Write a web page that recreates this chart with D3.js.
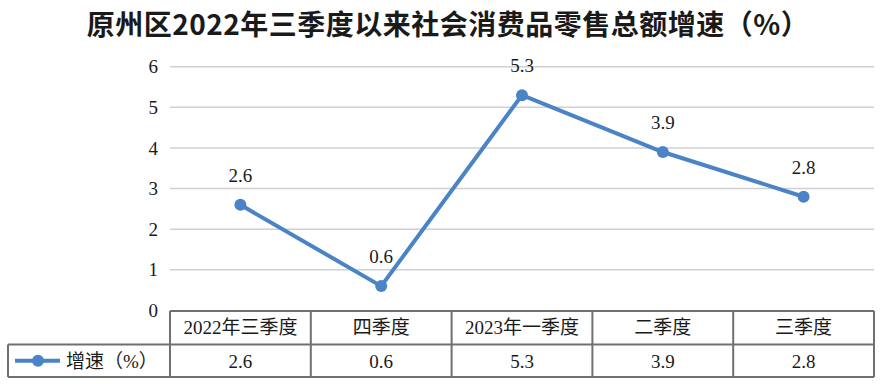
<!DOCTYPE html>
<html>
<head>
<meta charset="utf-8">
<script src="https://cdn.jsdelivr.net/npm/d3@7"></script>
<style>
  body { margin: 0; background: #fff; }
  svg text { fill: #1a1a1a; }
</style>
</head>
<body>
<div id="chart"></div>
<script>
var categories = ["2022年三季度", "四季度", "2023年一季度", "二季度", "三季度"];
var growth = [2.6, 0.6, 5.3, 3.9, 2.8];
var yTicks = [0, 1, 2, 3, 4, 5, 6];
var seriesName = "增速（%）";
var title = "原州区2022年三季度以来社会消费品零售总额增速（%）";

var width = 882, height = 387;
var plotLeft = 170, plotRight = 874, plotTop = 66.7, plotBottom = 310.5;
var rowH = 32.5;
var serif = "'Liberation Serif', 'Times New Roman', 'Noto Sans CJK SC', serif";
var blue = "#4a84c6", gridColor = "#d0d0d0", border = "#707070";

var svg = d3.select("#chart")
            .append("svg")
            .attr("width", width)
            .attr("height", height);

// title
svg.append("text")
   .attr("x", 448)
   .attr("y", 35)
   .attr("text-anchor", "middle")
   .style("font-family", "'Noto Sans CJK SC', sans-serif")
   .style("font-weight", "bold")
   .style("font-size", "28px")
   .style("letter-spacing", "0.5px")
   .text(title);

var x = d3.scaleBand()
          .domain(categories)
          .range([plotLeft, plotRight]);

var y = d3.scaleLinear()
          .domain([0, 6])
          .range([plotBottom, plotTop]);

// grid lines
svg.append("g")
   .selectAll("line")
   .data(yTicks.filter(function(d) { return d > 0; }))
   .enter()
   .append("line")
   .attr("x1", plotLeft)
   .attr("x2", plotRight)
   .attr("y1", function(d) { return y(d); })
   .attr("y2", function(d) { return y(d); })
   .style("stroke", gridColor)
   .style("stroke-width", 1.5);

// y axis labels
var yAxis = svg.append("g")
   .attr("transform", "translate(" + (plotLeft - 12) + ",0)")
   .call(d3.axisLeft(y).tickValues(yTicks).tickSize(0).tickPadding(0).tickFormat(d3.format("d")));
yAxis.select(".domain").remove();
yAxis.selectAll("text")
     .style("font-family", serif)
     .style("font-size", "19px")
     .style("fill", "#1a1a1a");

// line + points
var cx = function(d, i) { return x(categories[i]) + x.bandwidth() / 2; };

svg.append("path")
   .datum(growth)
   .attr("d", d3.line().x(cx).y(function(d) { return y(d); }))
   .style("fill", "none")
   .style("stroke", blue)
   .style("stroke-width", 4)
   .style("stroke-linejoin", "round");

svg.append("g")
   .selectAll("circle")
   .data(growth)
   .enter()
   .append("circle")
   .attr("cx", cx)
   .attr("cy", function(d) { return y(d); })
   .attr("r", 6)
   .style("fill", blue);

svg.append("g")
   .selectAll("text")
   .data(growth)
   .enter()
   .append("text")
   .attr("x", cx)
   .attr("y", function(d) { return y(d) - 23; })
   .attr("text-anchor", "middle")
   .style("font-family", serif)
   .style("font-size", "19px")
   .text(function(d) { return d.toFixed(1); });

// data table
var tbl = svg.append("g").style("stroke", border).style("stroke-width", 2).style("fill", "none");
var tableTop = plotBottom + 0.5;
var row2 = tableTop + rowH + 1;
var tableBottom = row2 + rowH;

tbl.append("line").attr("x1", plotLeft).attr("x2", plotRight).attr("y1", tableTop).attr("y2", tableTop);
tbl.append("line").attr("x1", 8).attr("x2", plotRight).attr("y1", row2).attr("y2", row2);
tbl.append("line").attr("x1", 8).attr("x2", plotRight).attr("y1", tableBottom).attr("y2", tableBottom);
tbl.append("line").attr("x1", 8).attr("x2", 8).attr("y1", row2).attr("y2", tableBottom);
tbl.selectAll("line.v")
   .data(categories.concat([null]))
   .enter()
   .append("line")
   .attr("class", "v")
   .attr("x1", function(d) { return d === null ? plotRight : x(d); })
   .attr("x2", function(d) { return d === null ? plotRight : x(d); })
   .attr("y1", tableTop)
   .attr("y2", tableBottom);

svg.append("g")
   .selectAll("text")
   .data(categories)
   .enter()
   .append("text")
   .attr("x", function(d) { return x(d) + x.bandwidth() / 2; })
   .attr("y", tableTop + rowH / 2 + 7)
   .attr("text-anchor", "middle")
   .style("font-family", serif)
   .style("font-size", "19px")
   .text(function(d) { return d; });

svg.append("g")
   .selectAll("text")
   .data(growth)
   .enter()
   .append("text")
   .attr("x", cx)
   .attr("y", row2 + rowH / 2 + 7)
   .attr("text-anchor", "middle")
   .style("font-family", serif)
   .style("font-size", "19px")
   .text(function(d) { return d.toFixed(1); });

// legend key
var ly = row2 + rowH / 2;
svg.append("line")
   .attr("x1", 15).attr("x2", 60)
   .attr("y1", ly).attr("y2", ly)
   .style("stroke", blue)
   .style("stroke-width", 4);
svg.append("circle")
   .attr("cx", 38).attr("cy", ly).attr("r", 6)
   .style("fill", blue);
svg.append("text")
   .attr("x", 66)
   .attr("y", ly + 7)
   .style("font-family", serif)
   .style("font-size", "19px")
   .text(seriesName);
</script>
</body>
</html>
